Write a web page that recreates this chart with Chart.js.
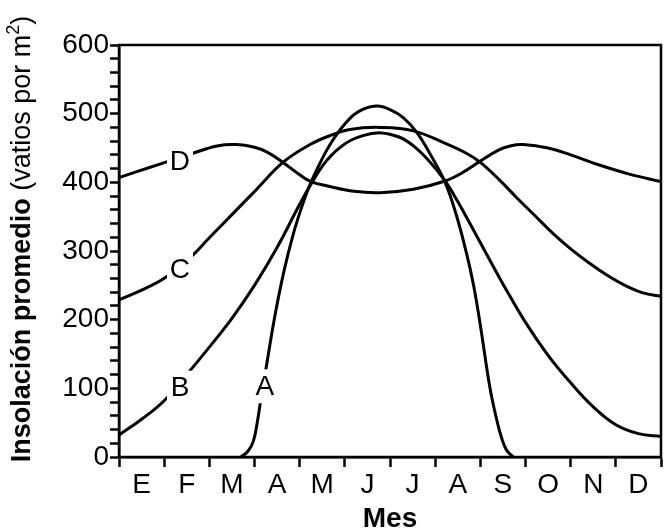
<!DOCTYPE html>
<html>
<head>
<meta charset="utf-8">
<script src="https://cdn.jsdelivr.net/npm/chart.js@4.4.1/dist/chart.umd.min.js"></script>
<style>
  html, body { margin: 0; padding: 0; background: #fff; }
  canvas { display: block; }
</style>
</head>
<body>
<canvas id="c" width="667" height="531" style="width:667px;height:531px"></canvas>
<script>
// Month labels (Spanish initials), positioned at month centres
const months = ['E', 'F', 'M', 'A', 'M', 'J', 'J', 'A', 'S', 'O', 'N', 'D'];
// Y tick labels
const yTicks = [0, 100, 200, 300, 400, 500, 600];

// Series (x in months from 1 January, y in W/m²)
const aX = [2.7, 2.85, 2.97, 3.06, 3.15, 3.27, 3.45, 3.65, 3.86, 4.05, 4.23, 4.45, 4.7, 5.0, 5.3, 5.7, 6.0, 6.3, 6.6, 6.9, 7.22, 7.47, 7.7, 7.85, 8.0, 8.21, 8.36, 8.47, 8.58, 8.73];
const aY = [0, 8, 22, 50, 88, 135, 205, 270, 325, 365, 397, 428, 458, 485, 503, 511, 506, 494, 472, 440, 400, 352, 295, 250, 192, 102, 55, 28, 10, 0];

const bX = [0, 0.5, 1.0, 1.5, 2.0, 2.5, 3.0, 3.5, 4.0, 4.23, 4.6, 5.0, 5.4, 5.8, 6.2, 6.52, 6.88, 7.22, 7.5, 7.77, 8.1, 8.51, 9.0, 9.5, 10.0, 10.5, 11.0, 11.5, 12];
const bY = [32, 55, 82, 120, 160, 202, 250, 305, 368, 395, 432, 456, 468, 472, 466, 453, 430, 402, 372, 340, 300, 251, 196, 148, 108, 73, 47, 34, 30];

const cX = [0, 0.5, 1.02, 1.57, 2.01, 2.5, 3.05, 3.63, 4.23, 4.67, 5.11, 5.78, 6.52, 7.25, 7.7, 8.0, 8.4, 8.8, 9.2, 9.6, 10.0, 10.4, 10.8, 11.2, 11.6, 12];
const cY = [229, 243, 261, 290, 320, 353, 390, 429, 455, 468, 477, 480, 475, 456, 442, 429, 405, 378, 352, 326, 303, 283, 265, 250, 239, 234];

const dX = [0, 0.69, 1.02, 1.62, 2.17, 2.6, 3.0, 3.28, 3.63, 4.0, 4.25, 4.67, 5.2, 5.78, 6.52, 7.22, 7.6, 8.0, 8.4, 8.66, 8.95, 9.5, 10.0, 10.6, 11.3, 12];
const dY = [407, 422, 429, 442, 453, 455, 451, 444, 429, 411, 401, 394, 387, 385, 390, 402, 414, 431, 447, 453, 455, 450, 440, 426, 412, 401];

// Curve labels: name, x (months), y (value)
const curveLabels = ['A', 'B', 'C', 'D'];
const curveLabelX = [3.23, 1.35, 1.35, 1.35];
const curveLabelY = [103, 101, 273, 431];

function pts(xs, ys) { return xs.map((x, i) => ({ x: x, y: ys[i] })); }

const FONT = '"Liberation Sans", Arial, Helvetica, sans-serif';

const extras = {
  id: 'extras',
  afterDatasetsDraw(chart) {
    const ctx = chart.ctx, xs = chart.scales.x, ys = chart.scales.y;
    ctx.save();
    ctx.font = '28px ' + FONT;
    ctx.textAlign = 'center';
    ctx.textBaseline = 'middle';
    curveLabels.forEach((t, i) => {
      const px = xs.getPixelForValue(curveLabelX[i]);
      const py = ys.getPixelForValue(curveLabelY[i]);
      ctx.fillStyle = '#fff';
      ctx.fillRect(px - 13, py - 17, 26, 34);
      ctx.fillStyle = '#000';
      ctx.fillText(t, px, py + 1);
    });
    // frame
    const a = chart.chartArea;
    ctx.strokeStyle = '#000';
    ctx.lineWidth = 2.5;
    ctx.strokeRect(a.left, a.top, a.right - a.left, a.bottom - a.top);
    ctx.restore();
  },
  afterDraw(chart) {
    const ctx = chart.ctx;
    ctx.save();
    ctx.fillStyle = '#000';
    // X title
    ctx.font = 'bold 28px ' + FONT;
    ctx.textAlign = 'center';
    ctx.textBaseline = 'alphabetic';
    const a = chart.chartArea;
    ctx.fillText('Mes', (a.left + a.right) / 2, 527);
    // Y title (mixed styles)
    const p1 = 'Insolación promedio', p2 = ' (vatios por m', p3 = '2', p4 = ')';
    const f1 = 'bold 27px ' + FONT, f2 = '27px ' + FONT, f3 = '18px ' + FONT;
    ctx.font = f1; const w1 = ctx.measureText(p1).width;
    ctx.font = f2; const w2 = ctx.measureText(p2).width; const w4 = ctx.measureText(p4).width;
    ctx.font = f3; const w3 = ctx.measureText(p3).width;
    const total = w1 + w2 + w3 + w4;
    const cy = 239;
    ctx.translate(30, cy);
    ctx.rotate(-Math.PI / 2);
    ctx.textAlign = 'left';
    let x = -total / 2;
    ctx.font = f1; ctx.fillText(p1, x, 0); x += w1;
    ctx.font = f2; ctx.fillText(p2, x, 0); x += w2;
    ctx.font = f3; ctx.fillText(p3, x, -11); x += w3;
    ctx.font = f2; ctx.fillText(p4, x, 0);
    ctx.restore();
  }
};

const ds = (data) => ({
  data: data,
  borderColor: '#000',
  borderWidth: 3,
  pointRadius: 0,
  fill: false,
  tension: 0.4,
  borderJoinStyle: 'round',
  borderCapStyle: 'round'
});

new Chart(document.getElementById('c'), {
  type: 'line',
  data: {
    datasets: [ds(pts(aX, aY)), ds(pts(bX, bY)), ds(pts(cX, cY)), ds(pts(dX, dY))]
  },
  options: {
    responsive: false,
    animation: false,
    devicePixelRatio: 1,
    layout: { padding: { top: 45, right: 6, left: 0, bottom: 0 } },
    plugins: { legend: { display: false }, tooltip: { enabled: false } },
    scales: {
      x: {
        type: 'linear',
        min: 0, max: 12,
        afterBuildTicks(scale) {
          const t = [];
          for (let k = 0; k <= 24; k++) t.push({ value: k / 2 });
          scale.ticks = t;
        },
        afterFit(scale) { scale.height = 74; },
        ticks: {
          autoSkip: false, maxRotation: 0, minRotation: 0,
          padding: 1,
          color: '#000',
          font: { family: FONT, size: 28 },
          callback(v) {
            const i = v - 0.5;
            return Number.isInteger(i) ? months[i] : '';
          }
        },
        grid: {
          drawOnChartArea: false, drawTicks: true, tickLength: 10,
          tickWidth: (c) => (c.tick && Number.isInteger(c.tick.value)) ? 2.5 : 0,
          tickColor: (c) => (c.tick && Number.isInteger(c.tick.value)) ? '#000' : 'rgba(0,0,0,0)'
        },
        border: { display: true, color: '#000', width: 2.5 }
      },
      y: {
        type: 'linear',
        min: 0, max: 600,
        afterFit(scale) { scale.width = 119; },
        ticks: {
          stepSize: 20,
          padding: 1,
          color: '#000',
          autoSkip: false,
          font: { family: FONT, size: 28 },
          callback(v) { return yTicks.includes(v) ? String(v) : ''; }
        },
        grid: { drawOnChartArea: false, drawTicks: true, tickLength: 9, tickWidth: 2.5, tickColor: '#000' },
        border: { display: true, color: '#000', width: 2.5 }
      }
    }
  },
  plugins: [extras]
});
</script>
</body>
</html>
